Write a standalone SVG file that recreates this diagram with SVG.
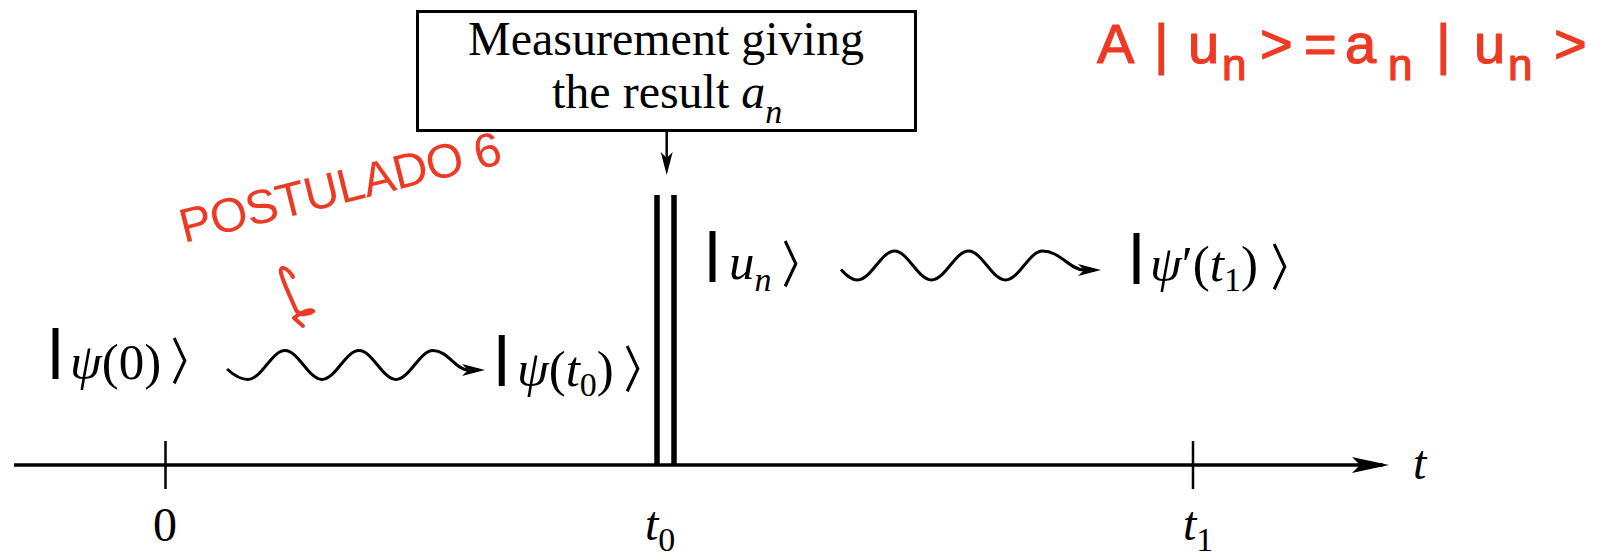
<svg xmlns="http://www.w3.org/2000/svg" width="1619" height="560" viewBox="0 0 1619 560">
<style>
.m{font-family:"Liberation Serif","Times New Roman",serif;font-size:51px;fill:#000}
.b{font-family:"Liberation Serif","Times New Roman",serif;font-size:48px;fill:#000}
.i{font-style:italic}
.bar{font-family:"Liberation Sans",Arial,sans-serif;font-size:52px;fill:#000;stroke:#000;stroke-width:1.8px;text-anchor:middle}
.ang{font-family:"DejaVu Sans",sans-serif;font-size:51px;fill:#000;stroke:#000;stroke-width:1.3px}
.w{fill:none;stroke:#000;stroke-width:3}
.red{font-family:"Liberation Sans",Arial,sans-serif;fill:#EE3A24}
.rs{stroke:#EE3A24;stroke-width:1.2px;stroke-linejoin:round}
</style>
<defs>
<marker id="ah" markerUnits="userSpaceOnUse" orient="auto" refX="0" refY="0" markerWidth="30" markerHeight="20" overflow="visible">
<path d="M10,0 L-13,-6 L-7,0 L-13,6 Z" fill="#000"/>
</marker>
<marker id="ahb" markerUnits="userSpaceOnUse" orient="auto" refX="0" refY="0" markerWidth="50" markerHeight="30" overflow="visible">
<path d="M6,0 L-31,-8 L-23,0 L-31,8 Z" fill="#000"/>
</marker>
</defs>

<g id="connectors">
<line x1="14" y1="465" x2="1383" y2="465" stroke="#000" stroke-width="3.5" marker-end="url(#ahb)"/>
<line x1="165.5" y1="441" x2="165.5" y2="489" stroke="#000" stroke-width="2.5"/>
<line x1="1193" y1="441" x2="1193" y2="489" stroke="#000" stroke-width="2.5"/>
<line x1="657" y1="195" x2="657" y2="465" stroke="#000" stroke-width="5.5"/>
<line x1="674" y1="195" x2="674" y2="465" stroke="#000" stroke-width="5.5"/>
<line x1="666.7" y1="131" x2="666.7" y2="165" stroke="#000" stroke-width="2.5" marker-end="url(#ah)"/>
<path class="w" marker-end="url(#ah)" d="M227,369 C233,374.5 240,379.5 248,379.5 C261.4,379.5 271.6,350.5 285,350.5 C298.4,350.5 308.6,379.5 322,379.5 C335.4,379.5 345.6,350.5 359,350.5 C372.4,350.5 382.6,379.5 396,379.5 C409.4,379.5 419.6,350.5 433,350.5 C448,350.5 456,370 468,370 L475,370"/>
<path class="w" marker-end="url(#ah)" d="M841,269.5 C846,275 851,280 857.5,280 C870.9,280 881.1,251 894.5,251 C907.9,251 918.1,280 931.5,280 C944.9,280 955.1,251 968.5,251 C981.9,251 992.1,280 1005.5,280 C1018.9,280 1029.1,251 1042.5,251 C1060,251 1070,270 1084,270 L1091,270"/>
</g>

<g id="measurement">
<rect x="417.5" y="11.5" width="498" height="119" fill="#fff" stroke="#000" stroke-width="3"/>
<text class="b" x="468" y="55">Measurement giving</text>
<text class="b" x="552" y="108">the result <tspan class="i">a</tspan><tspan class="i" font-size="34" dy="15">n</tspan></text>
</g>

<g id="ket-psi0">
<text class="bar" x="55.5" y="367">|</text>
<text class="m" x="70" y="379"><tspan class="i">ψ</tspan>(0)</text>
<text class="ang" x="166.5" y="379">〉</text>
</g>

<g id="ket-psit0">
<text class="bar" x="501.7" y="374">|</text>
<text class="m" x="517" y="386"><tspan class="i">ψ</tspan>(<tspan class="i">t</tspan><tspan font-size="34" dy="10">0</tspan><tspan dy="-10">)</tspan></text>
<text class="ang" x="620.2" y="387">〉</text>
</g>

<g id="ket-un">
<text class="bar" x="712.5" y="269.7">|</text>
<text class="m i" x="729" y="279">u<tspan font-size="34" dy="12">n</tspan></text>
<text class="ang" x="777.5" y="282">〉</text>
</g>

<g id="ket-psit1">
<text class="bar" x="1136.5" y="271.7">|</text>
<text class="m" x="1150" y="281"><tspan class="i">ψ</tspan>′(<tspan class="i">t</tspan><tspan font-size="34" dy="10">1</tspan><tspan dy="-10">)</tspan></text>
<text class="ang" x="1266.5" y="285">〉</text>
</g>

<g id="axis-labels">
<text class="b" x="165" y="541" text-anchor="middle">0</text>
<text class="b" x="645" y="540"><tspan class="i">t</tspan><tspan font-size="34" dy="11">0</tspan></text>
<text class="b" x="1183" y="540"><tspan class="i">t</tspan><tspan font-size="34" dy="11">1</tspan></text>
<text class="b i" x="1413" y="479">t</text>
</g>

<g id="annotation-eigen">
<text class="red rs" font-size="56" y="63"><tspan x="1097">A</tspan><tspan x="1154">|</tspan><tspan x="1188">u</tspan><tspan x="1222" font-size="44" dy="17">n</tspan><tspan x="1260" dy="-17">&gt;</tspan><tspan x="1304">=</tspan><tspan x="1345">a</tspan><tspan x="1388" font-size="44" dy="17">n</tspan><tspan x="1436" dy="-17">|</tspan><tspan x="1474">u</tspan><tspan x="1508" font-size="44" dy="17">n</tspan><tspan x="1554" dy="-17">&gt;</tspan></text>
</g>

<g id="annotation-postulado">
<text class="red" font-size="48" transform="translate(184,243) rotate(-14)" textLength="330" lengthAdjust="spacing">POSTULADO 6</text>
<path d="M293,277 C288,268 279,264 281,273 C283,282 290,296 296,310 C300,318 314,312 313,311 C311,309 300,312 294,318 L303,326" fill="none" stroke="#EE3A24" stroke-width="4" stroke-linecap="round" stroke-linejoin="round"/>
</g>
</svg>
